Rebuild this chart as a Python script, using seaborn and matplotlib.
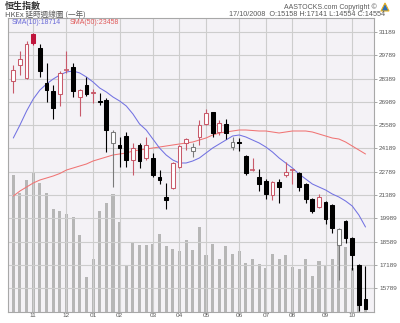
import matplotlib
matplotlib.use("Agg")
import matplotlib.pyplot as plt
from matplotlib.patches import Polygon
import seaborn as sns
import numpy as np
import pandas as pd

# ---------------- data (weekly HSI) ----------------
OPEN = [28244, 29206, 28424, 31069, 30227, 28124, 27643, 27463, 28880, 29086,
        27282, 28004, 27523, 27060, 27102, 24518, 24398, 24939, 23496, 24398,
        23616, 23616, 22475, 21273, 21813, 23075, 24518, 24037, 24878, 25660,
        26381, 25179, 25660, 24277, 24578, 23737, 22865, 22475, 22234, 21393,
        22174, 22595, 22870, 22715, 22054, 21152, 20672, 20972, 20792, 18388,
        19830, 18808, 17186, 15158]
HIGH = [29206, 30047, 30648, 31150, 30468, 29326, 28004, 28845, 30047, 29326,
        27760, 28485, 27763, 27523, 27222, 25299, 24878, 25179, 24518, 24518,
        24878, 23917, 22895, 22114, 23376, 24398, 24818, 24518, 25900, 26561,
        26400, 25900, 25960, 24878, 24818, 23797, 23616, 22955, 22354, 22234,
        22354, 23376, 22955, 22775, 22114, 21212, 21453, 21032, 20852, 19410,
        19891, 18850, 17230, 17141]
LOW = [27523, 28605, 28364, 30408, 28485, 26982, 25960, 26742, 28725, 27282,
       26141, 27343, 26922, 26802, 23977, 21874, 23075, 23075, 22595, 23015,
       23496, 22475, 22054, 20551, 21753, 23015, 24097, 23676, 24398, 25600,
       24878, 24999, 24758, 24097, 24037, 22595, 22835, 21633, 21152, 21092,
       20912, 22475, 22054, 21633, 20912, 20311, 20611, 19650, 19110, 16284,
       18508, 16885, 14420, 14554]
CLOSE = [28905, 29566, 30468, 30528, 28845, 27703, 26621, 28725, 28905, 27643,
         27703, 27463, 27583, 26982, 25299, 25179, 24217, 23496, 24217, 23436,
         24398, 22595, 22294, 21092, 23316, 24337, 24758, 24277, 25600, 26321,
         25119, 25720, 25119, 24578, 24518, 22715, 22895, 22054, 21453, 22174,
         21874, 22775, 22895, 21874, 21152, 20431, 21273, 19951, 19410, 19350,
         18808, 17787, 14782, 14554]
VOLUME = [137, 119, 132, 140, 129, 119, 103, 101, 98, 95,
          77, 35, 53, 101, 109, 118, 90, 46, 69, 67,
          67, 68, 78, 66, 63, 61, 72, 62, 85, 57,
          68, 53, 66, 58, 61, 49, 53, 48, 44, 58,
          53, 57, 45, 43, 53, 36, 51, 46, 53, 67,
          65, 44, 15, 8]
SMA10 = [24818, 25600, 26441, 27162, 27703, 28064, 28364, 28605, 28785, 28845,
         28725, 28485, 28184, 27823, 27583, 27282, 27042, 26742, 26261, 25660,
         25299, 24758, 24217, 23797, 23496, 23316, 23316, 23436, 23616, 23917,
         24217, 24458, 24698, 24939, 24999, 24878, 24698, 24518, 24277, 23977,
         23616, 23316, 23015, 22655, 22354, 22054, 21873, 21693, 21453, 21272,
         21032, 20732, 20191, 19470]
SMA50 = [21332, 21633, 21873, 22114, 22294, 22414, 22535, 22685, 22895, 23015,
         23136, 23256, 23436, 23556, 23676, 23797, 23857, 23917, 24037, 24097,
         24157, 24217, 24277, 24337, 24398, 24458, 24518, 24578, 24698, 24818,
         24999, 25119, 25179, 25239, 25299, 25299, 25269, 25239, 25239, 25179,
         25119, 25179, 25239, 25239, 25239, 25179, 25059, 24939, 24818, 24758,
         24578, 24337, 24097, 23857]
MONTH_LABELS = ["11", "12", "01", "02", "03", "04", "05", "06", "07", "08", "09", "10"]
MONTH_START_WEEK = [3, 8, 12, 16, 21, 25, 29, 34, 38, 42, 47, 51]
PRICE_TICKS = [31189, 29789, 28389, 26989, 25589, 24189, 22789, 21389,
               19989, 18589, 17189, 15789]
PRICE_RANGE = (14361, 32030)
VOLUME_AXIS_MAX = 294

TITLE = "恒生指數"
SUBTITLE = "HKEx 延時週線圖 (一年)"
COPYRIGHT = "AASTOCKS.com Copyright ©"
QUOTE = "17/10/2008  O:15158 H:17141 L:14554 C:14554"
SMA10_LABEL = "SMA(10):18714"
SMA50_LABEL = "SMA(50):23458"

# ---------------- style ----------------
sns.set_theme(style="white")
plt.rcParams['font.family'] = ['Liberation Sans', 'Noto Sans CJK TC']

BG = "#f4f2f6"
GRID = "#cdcdcd"
RED_HOLLOW = "#c85a6a"
RED_FILL = "#c0143c"
GREY_HOLLOW = "#7a7a7a"
VOL_COLOR = "#b6b6b6"
TXT = "#5a5a5a"

W, H = 400, 323
fig = plt.figure(figsize=(W / 100, H / 100), dpi=100)
fig.patch.set_facecolor("white")
rect = [8 / W, (H - 312) / H, 366 / W, 294 / H]

axv = fig.add_axes(rect)
ax = fig.add_axes(rect, sharex=axv)
ax.patch.set_visible(False)
axv.set_facecolor(BG)

n = len(CLOSE)
idx = np.arange(n)
df = pd.DataFrame({"week": idx, "open": OPEN, "high": HIGH, "low": LOW,
                   "close": CLOSE, "volume": VOLUME,
                   "sma10": SMA10, "sma50": SMA50})

# volume bars
sns.barplot(data=df, x="week", y="volume", native_scale=True, color=VOL_COLOR,
            saturation=1, width=0.46, ax=axv, linewidth=0)
axv.set_ylim(0, VOLUME_AXIS_MAX)
axv.set_yticks([])
axv.set_xlabel("")
axv.set_ylabel("")
for s in axv.spines.values():
    s.set_visible(False)

# grid
ax.set_xlim(-0.8, 54.28)
ax.set_ylim(*PRICE_RANGE)
ax.set_yticks(PRICE_TICKS)
ax.set_yticklabels([str(t) for t in PRICE_TICKS], family="Liberation Sans")
ax.set_xticks(MONTH_START_WEEK)
ax.set_xticklabels(MONTH_LABELS, family="Liberation Sans")
ax.grid(True, color=GRID, linewidth=0.8, zorder=0)
ax.set_axisbelow(True)

# moving averages
sns.lineplot(data=df, x="week", y="sma50", ax=ax, color="#f07474", linewidth=0.75, zorder=2)
sns.lineplot(data=df, x="week", y="sma10", ax=ax, color="#7272e2", linewidth=0.75, zorder=2)

# candles
prev = None
for i in range(n):
    o, h, l, c = OPEN[i], HIGH[i], LOW[i], CLOSE[i]
    up_vs_prev = True if prev is None else c >= prev
    hollow = c >= o
    if hollow:
        edge = RED_HOLLOW if up_vs_prev else GREY_HOLLOW
        face = "white"
    else:
        edge = RED_FILL if up_vs_prev else "black"
        face = edge
    ax.vlines(i, l, h, color=edge, linewidth=0.8, zorder=3)
    body = abs(c - o)
    if body < 40:
        ax.hlines((o + c) / 2, i - 0.32, i + 0.32, color=edge, linewidth=1.2, zorder=4)
    else:
        ax.bar(i, body, bottom=min(o, c), width=0.56, facecolor=face,
               edgecolor=edge, linewidth=0.75, zorder=4)
    prev = c

ax.set_xlabel("")
ax.set_ylabel("")
ax.yaxis.tick_right()
ax.tick_params(axis="y", which="both", right=True, left=False, length=2.5, width=0.6,
               color="#999999", labelsize=4.6, labelcolor=TXT, pad=1.2)
ax.tick_params(axis="x", length=0, labelsize=4.6, labelcolor=TXT, pad=0.8)
for s in ax.spines.values():
    s.set_color("#a8a8a8")
    s.set_linewidth(0.8)

# header texts
fig.text(5 / W, 1 - 2 / H, TITLE, ha="left", va="top", fontsize=6.5,
         color="#333333", family=['Noto Sans CJK TC', 'DejaVu Sans'], fontweight="bold")
fig.text(5 / W, 1 - 11 / H, SUBTITLE, ha="left", va="top", fontsize=5.5,
         color=TXT, family=['Noto Sans CJK TC', 'DejaVu Sans'])
fig.text(377 / W, 1 - 3.5 / H, COPYRIGHT, ha="right", va="top", fontsize=5,
         color=TXT, family="Liberation Sans")
fig.text(385 / W, 1 - 11.5 / H, QUOTE, ha="right", va="top", fontsize=5.2,
         color=TXT, family="Liberation Sans")
fig.text(12 / W, 1 - 19.5 / H, SMA10_LABEL, ha="left", va="top", fontsize=5,
         color="#6a6ad8", family="Liberation Sans")
fig.text(70 / W, 1 - 19.5 / H, SMA50_LABEL, ha="left", va="top", fontsize=5,
         color="#e05a5a", family="Liberation Sans")
logo = Polygon([[381 / W, 1 - 11 / H], [385 / W, 1 - 3 / H], [389 / W, 1 - 11 / H]],
               closed=True, transform=fig.transFigure, facecolor="#2d6fb8",
               edgecolor="#e8b020", linewidth=0.8)
fig.patches.append(logo)

fig.savefig("out.png", dpi=100)
